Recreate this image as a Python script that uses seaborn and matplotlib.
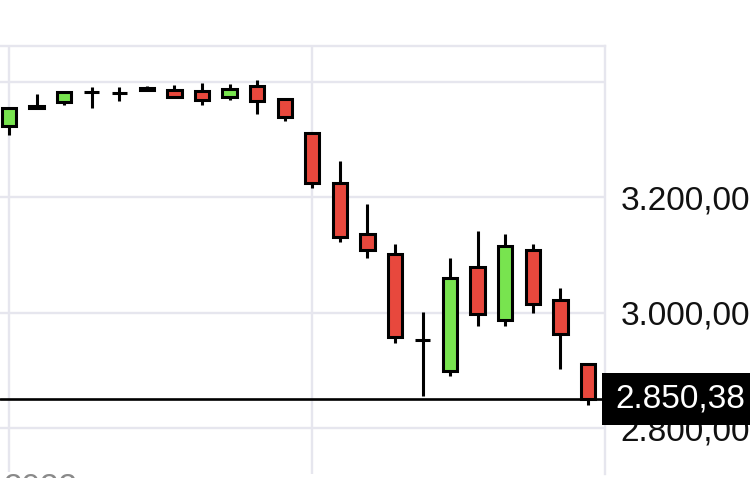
import numpy as np
import pandas as pd
import matplotlib
matplotlib.use("Agg")
import matplotlib.pyplot as plt
import matplotlib.transforms as mtransforms
from matplotlib.patches import Rectangle
import seaborn as sns

# --- dados ---
opens = [3323.5, 3355, 3364.5, 3381, 3379.6, 3385.8, 3386, 3383, 3374, 3393, 3369.7,
         3311.7, 3225, 3136.8, 3102, 2952.4, 2899.5, 3078.8, 2986.5, 3109, 3022.5, 2910.8]
closes = [3354.6, 3357, 3382, 3381, 3379.6, 3388, 3374, 3368.5, 3387, 3367, 3339.4,
          3224, 3131.6, 3109, 2957.6, 2952.4, 3060.6, 2998, 3114.6, 3015.6, 2963.3, 2850.38]
highs = [3354.6, 3378, 3382, 3391, 3391, 3392.7, 3394, 3397, 3395, 3402.6, 3369.7,
         3311.7, 3262.9, 3187.4, 3118, 3001.4, 3094.9, 3141, 3136, 3118.6, 3043, 2910.8]
lows = [3307.4, 3355, 3359, 3353.6, 3366, 3385.8, 3374, 3359, 3368, 3343, 3331.6,
        3215, 3122.6, 3093.9, 2947.7, 2855.9, 2890.6, 2976.6, 2976.6, 2999.7, 2901.6, 2839.8]

price_ticks = [2800, 3000, 3200, 3400]
price_labels = ["2.800,00", "3.000,00", "3.200,00", ""]
date_ticks = [0, 11]
date_label = "2022"
last_label = "2.850,38"

UP = "#78e44f"
DOWN = "#e8483d"
GRID = "#e6e6ee"

df = pd.DataFrame({"open": opens, "high": highs, "low": lows, "close": closes})
df["idx"] = np.arange(len(df))

sns.set_theme(style="white")
plt.rcParams["font.family"] = ["Liberation Sans", "DejaVu Sans"]

fig = plt.figure(figsize=(7.5, 4.78), dpi=100)
W, H = 750, 478
ax = fig.add_axes([0, 4 / H, 605 / W, 428 / H])

# pavios
ax.vlines(df["idx"], df["low"], df["high"], color="black", lw=2.2, zorder=2)

# corpos
for _, r in df.iterrows():
    if r["open"] == r["close"]:
        ax.hlines(r["open"], r["idx"] - 0.27, r["idx"] + 0.27, color="black", lw=2.2, zorder=3)
        continue
    cor = UP if r["close"] > r["open"] else DOWN
    ax.bar(r["idx"], abs(r["close"] - r["open"]), bottom=min(r["open"], r["close"]),
           width=0.52, color=cor, edgecolor="black", linewidth=2.2, zorder=3)

ax.set_xlim(-0.33, 21.62)
ax.set_ylim(2720.5, 3461.5)

ax.set_xticks(date_ticks)
ax.set_xticklabels([])
ax.set_yticks(price_ticks)
ax.set_yticklabels(price_labels)
ax.yaxis.tick_right()
ax.tick_params(axis="y", length=0, pad=11, labelsize=24, labelcolor="#111111")
ax.tick_params(axis="x", length=0)
ax.grid(True, color=GRID, lw=1.7)
ax.set_axisbelow(True)

for lado in ["left", "bottom"]:
    ax.spines[lado].set_visible(False)
for lado in ["top", "right"]:
    ax.spines[lado].set_color(GRID)
    ax.spines[lado].set_linewidth(1.7)

# linha do último preço
ax.axhline(closes[-1], color="black", lw=1.9, zorder=4)
trans = mtransforms.blended_transform_factory(ax.transAxes, ax.transData)
ax.add_patch(Rectangle((0.995, closes[-1] - 45.5), 0.3, 91, transform=trans,
                       facecolor="black", edgecolor="none", clip_on=False, zorder=5))
ax.text(1.0165, closes[-1], last_label, transform=trans, ha="left", va="center",
        color="white", fontsize=24, clip_on=False, zorder=6)

# rótulo de data cortado na borda inferior
fig.text(3 / W, 5 / H, date_label, ha="left", va="top", color="#8a8a8a", fontsize=24,
         bbox=dict(facecolor="white", edgecolor="none", pad=1))

fig.savefig("out.png", dpi=100)
